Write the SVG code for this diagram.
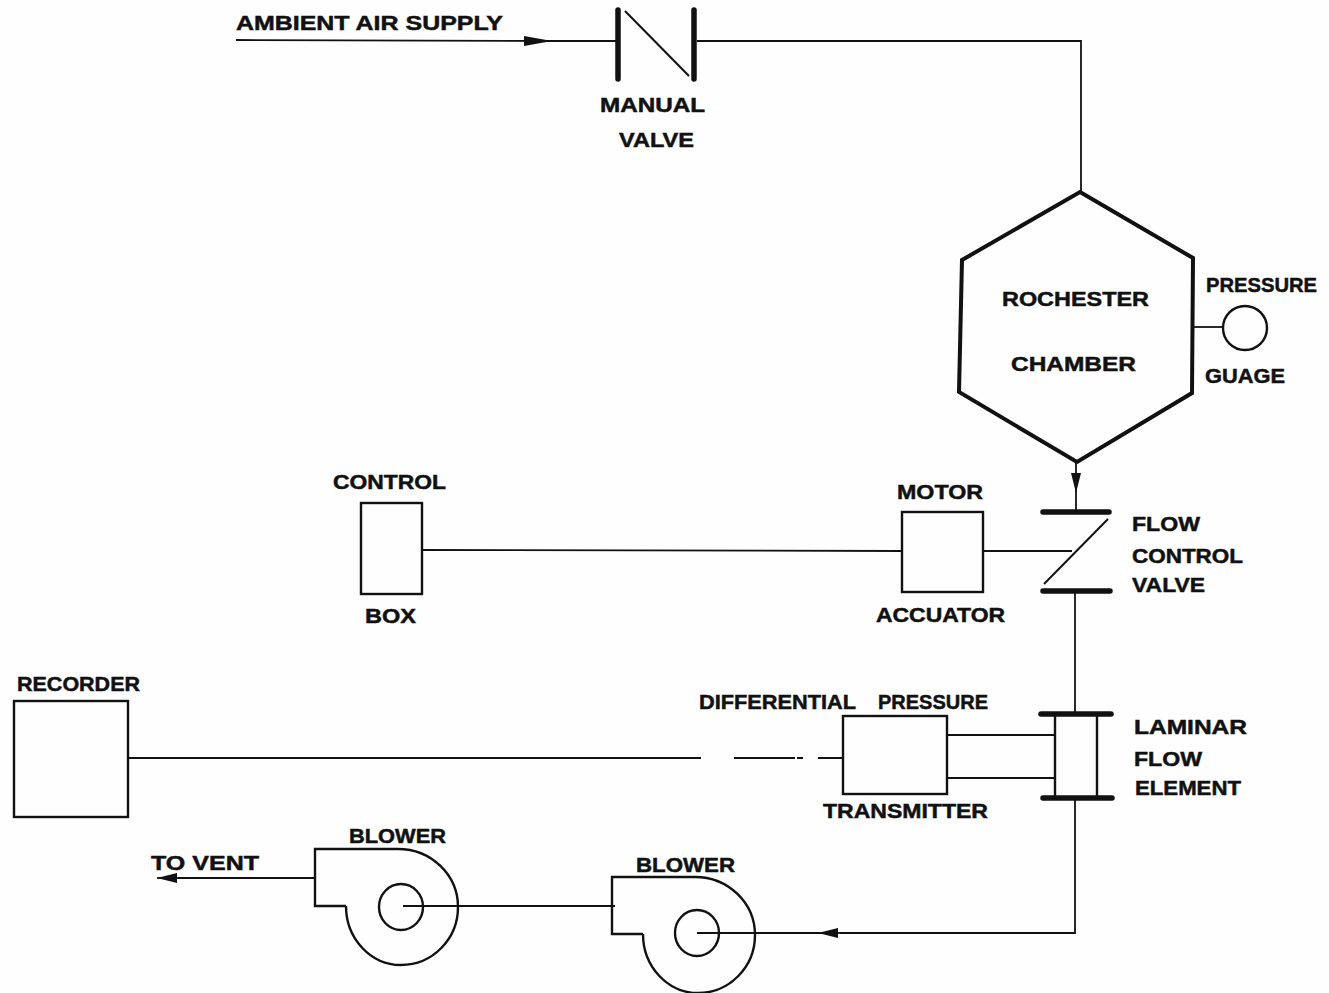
<svg xmlns="http://www.w3.org/2000/svg" width="1329" height="993" viewBox="0 0 1329 993">
<style>
.s{fill:none;stroke:#111;stroke-width:2.4}
.c{fill:none;stroke:#111;stroke-width:1.8}
.b{fill:none;stroke:#111;stroke-width:5.5;stroke-linecap:round}
.d{fill:none;stroke:#111;stroke-width:2}
.h{fill:none;stroke:#111;stroke-width:4;stroke-linejoin:miter}
text{font-family:"Liberation Sans",Arial,sans-serif;font-weight:bold;font-size:21px;fill:#111;stroke:#111;stroke-width:.5}
</style>
<defs>
<marker id="arr" markerUnits="userSpaceOnUse" markerWidth="28" markerHeight="14" refX="28" refY="7" orient="auto"><path d="M0 2L28 7L0 12Z" fill="#111"/></marker>
<marker id="arr2" markerUnits="userSpaceOnUse" markerWidth="20" markerHeight="14" refX="20" refY="7" orient="auto"><path d="M0 2L20 7L0 12Z" fill="#111"/></marker>
<path id="housing" class="s" d="M346 906L315 906L315 849L398 849A60 58 0 0 1 458 907A57 58 0 0 1 401 965A55 59 0 0 1 346 906"/>
</defs>
<rect width="1329" height="993" fill="#fefefe"/>
<g id="connectors">
<path class="c" d="M236 40L552 41" marker-end="url(#arr)"/>
<path class="c" d="M552 41L616 41"/>
<path class="c" d="M697 41L1081 41L1081 191"/>
<path class="c" d="M1076 463L1076 493" marker-end="url(#arr2)"/>
<path class="c" d="M1076 493L1076 510"/>
<path class="c" d="M1194 327L1223 327"/>
<path class="c" d="M422 550L902 551"/>
<path class="c" d="M983 551L1072 551"/>
<path class="c" d="M1075 593L1075 712"/>
<path class="c" d="M128 758L701 758M734 758L795 758M797 758L803 758M818 758L843 758"/>
<path class="c" d="M947 735L1054 735"/>
<path class="c" d="M947 778L1054 778"/>
<path class="c" d="M1075 799L1075 933L840 933"/>
<path class="c" d="M840 933L818 933" marker-end="url(#arr2)"/>
<path class="c" d="M820 933L697 933"/>
<path class="c" d="M403 906L615 906"/>
<path class="c" d="M315 878L178 878"/>
<path class="c" d="M180 878L157 878" marker-end="url(#arr2)"/>
</g>
<g id="ambient"><text x="236" y="30" textLength="267" lengthAdjust="spacingAndGlyphs">AMBIENT  AIR  SUPPLY</text></g>
<g id="manual-valve">
<path class="b" d="M618 10L618 79M694 10L694 79"/>
<path class="d" d="M625 11L689 76"/>
<text x="600" y="112" textLength="105" lengthAdjust="spacingAndGlyphs">MANUAL</text>
<text x="619" y="147" textLength="75" lengthAdjust="spacingAndGlyphs">VALVE</text>
</g>
<g id="chamber">
<path class="h" d="M1080 192L1193 258L1192 393L1077 462L959 392L962 260Z"/>
<text x="1002" y="306" textLength="147" lengthAdjust="spacingAndGlyphs">ROCHESTER</text>
<text x="1011" y="371" textLength="125" lengthAdjust="spacingAndGlyphs">CHAMBER</text>
</g>
<g id="gauge">
<circle class="s" cx="1245" cy="328" r="22"/>
<text x="1206" y="292" textLength="111" lengthAdjust="spacingAndGlyphs">PRESSURE</text>
<text x="1205" y="383" textLength="80" lengthAdjust="spacingAndGlyphs">GUAGE</text>
</g>
<g id="control-box">
<rect class="s" x="361" y="503" width="61" height="91"/>
<text x="333" y="489" textLength="113" lengthAdjust="spacingAndGlyphs">CONTROL</text>
<text x="365" y="623" textLength="51" lengthAdjust="spacingAndGlyphs">BOX</text>
</g>
<g id="motor-actuator">
<rect class="s" x="902" y="512" width="81" height="80"/>
<text x="897" y="499" textLength="86" lengthAdjust="spacingAndGlyphs">MOTOR</text>
<text x="876" y="622" textLength="129" lengthAdjust="spacingAndGlyphs">ACCUATOR</text>
</g>
<g id="flow-control-valve">
<path class="b" d="M1043 512L1109 512M1043 591L1110 591"/>
<path class="d" d="M1108 519L1044 584"/>
<text x="1132" y="531" textLength="68" lengthAdjust="spacingAndGlyphs">FLOW</text>
<text x="1132" y="563" textLength="111" lengthAdjust="spacingAndGlyphs">CONTROL</text>
<text x="1132" y="592" textLength="73" lengthAdjust="spacingAndGlyphs">VALVE</text>
</g>
<g id="laminar-flow-element">
<path class="b" d="M1041 714L1111 714M1043 798L1112 798"/>
<path class="s" d="M1055 714L1055 798M1097 714L1097 798"/>
<text x="1134" y="734" textLength="113" lengthAdjust="spacingAndGlyphs">LAMINAR</text>
<text x="1134" y="766" textLength="68" lengthAdjust="spacingAndGlyphs">FLOW</text>
<text x="1135" y="795" textLength="106" lengthAdjust="spacingAndGlyphs">ELEMENT</text>
</g>
<g id="dp-transmitter">
<rect class="s" x="843" y="716" width="104" height="78"/>
<text x="699" y="709" textLength="157" lengthAdjust="spacingAndGlyphs">DIFFERENTIAL</text>
<text x="878" y="709" textLength="110" lengthAdjust="spacingAndGlyphs">PRESSURE</text>
<text x="823" y="818" textLength="165" lengthAdjust="spacingAndGlyphs">TRANSMITTER</text>
</g>
<g id="recorder">
<rect class="s" x="14" y="701" width="114" height="116"/>
<text x="17" y="691" textLength="123" lengthAdjust="spacingAndGlyphs">RECORDER</text>
</g>
<g id="blower-1">
<use href="#housing"/>
<ellipse class="s" cx="401" cy="907" rx="22" ry="23"/>
<text x="349" y="843" textLength="97" lengthAdjust="spacingAndGlyphs">BLOWER</text>
<text x="151" y="870" textLength="108" lengthAdjust="spacingAndGlyphs">TO VENT</text>
</g>
<g id="blower-2">
<use href="#housing" transform="translate(297 28)"/>
<ellipse class="s" cx="697" cy="933" rx="22" ry="23"/>
<text x="636" y="872" textLength="99" lengthAdjust="spacingAndGlyphs">BLOWER</text>
</g>
</svg>
